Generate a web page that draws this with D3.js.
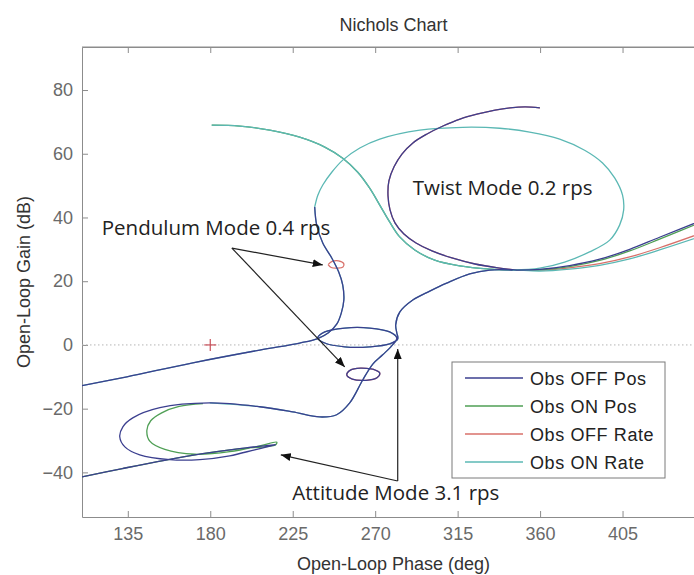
<!DOCTYPE html>
<html>
<head>
<meta charset="utf-8">
<script src="https://cdn.jsdelivr.net/npm/d3@7"></script>
<style>
    body { margin: 0; background: #fff; }
    svg { display: block; font-family: "Liberation Sans", Arial, sans-serif; }
</style>
</head>
<body>
<div class="canvas"></div>
<script>
// ---- data (phase in deg, gain in dB) ----
const xTicks = [135, 180, 225, 270, 315, 360, 405];
const yTicks = [-40, -20, 0, 20, 40, 60, 80];

const seriesNames = ['Obs OFF Pos', 'Obs ON Pos', 'Obs OFF Rate', 'Obs ON Rate'];
const seriesColors = ['#3b3f8f', '#4f9f55', '#d8706a', '#5bb8b4'];

// rising branch from the left edge, through 0 dB and the pendulum mode
const riseLowPhase = [110, 134.5, 170.5, 207, 228.8, 238.7, 244.5, 249, 251.5, 252.9, 252.3, 250.1, 246.3, 241.4, 238.1, 237];
const riseLowGain = [-12.8, -10, -5.6, -1.6, 0.6, 2.0, 3.8, 6.5, 10, 14.1, 18.8, 22.9, 27.3, 32, 37.6, 43.3];

// twist mode loop, observer ON
const onLoopPhase = [237, 238.7, 241.4, 246.3, 252.3, 261.6, 272.5, 294.3, 317.8, 338, 354.3, 370.7, 384.3, 394.1, 400.7, 405, 405.6, 403.4, 398, 387, 373.4, 359.8, 345];
const onLoopGain = [43.3, 47, 50.2, 54.2, 58, 61.8, 64.6, 67.4, 68.3, 68, 66.8, 64.6, 61.1, 57.1, 52.4, 47, 42.3, 37.6, 32.9, 29.2, 26, 24.1, 23.5];

// low frequency start, observer ON
const onTopPhase = [180.8, 196.1, 212.5, 228.8, 242.5, 252.3, 260.5, 267, 272.5, 277.9, 283.4, 291.6, 302.5, 316.1, 332.5, 345];
const onTopGain = [69, 68.7, 67.4, 65.2, 62.1, 58.6, 54.2, 49.2, 43.9, 38.6, 33.9, 29.8, 26.6, 24.8, 23.8, 23.5];

// twist mode loop, observer OFF
const offLoopPhase = [359.9, 351.8, 343.6, 335.4, 326.1, 316.3, 307, 298.3, 290.6, 284.6, 280.3, 277.5, 277, 278.1, 280.8, 285.7, 292.3, 301, 311.9, 324.5, 337, 347.4];
const offLoopGain = [74.4, 74.7, 74.4, 73.7, 72.5, 70.9, 68.7, 66.2, 63.4, 59.9, 55.9, 51.5, 46.8, 42.4, 38.3, 34.8, 32, 29.5, 27.3, 25.4, 24.2, 23.5];

// branches leaving to the right edge
const rightPhase = [347.4, 359.8, 376.1, 392.5, 408.9, 425.2, 450];
const posOffRightGain = [23.5, 23.7, 24.9, 26.9, 30, 33.8, 39.5];
const posOnRightGain = [23.5, 23.6, 24.6, 26.5, 29.5, 33.2, 39];
const rateOffRightGain = [23.5, 23.4, 24.2, 25.5, 27.6, 30.5, 35.5];
const rateOnRightGain = [23.5, 23.2, 23.8, 25, 27, 29.8, 34.5];

// descent through the attitude mode loop down to -20 dB
const descendPhase = [345, 332.5, 321.6, 309, 299.8, 290.5, 283.4, 281.2, 281.8, 282.3, 277.9, 267, 253.4, 242.5, 238.7, 242.5, 253.4, 267, 277.9, 281.8, 279, 274.1, 268.7, 263.2, 256.1, 249, 239.7, 225, 207, 179.7];
const descendGain = [23.5, 23.5, 22.3, 19.4, 16.9, 14.1, 10.3, 6.3, 3.8, 1.9, 0.3, -0.6, -0.6, 0.6, 2.2, 4.1, 5.3, 5.3, 4.1, 2.2, -0.3, -3.1, -6, -11, -18.2, -21.9, -22.6, -21, -19.4, -18.2];

// lower left loops
const offLowLoopPhase = [152.5, 137.7, 132.3, 130.6, 133.4, 141.5, 157.9, 174.3, 190.6, 204.3, 215.7];
const offLowLoopGain = [-19.7, -22.9, -25.7, -28.8, -32, -34.5, -36, -36, -34.8, -32.9, -31.3];
const onLowLoopPhase = [176, 163, 153.5, 147.5, 145.4, 147, 155.2, 171.6, 190.6, 207, 216.3];
const onLowLoopGain = [-18.4, -19.3, -21.3, -23.8, -26.8, -30.2, -32.8, -34.3, -33.5, -31.7, -30.5];
const returnPhase = [215.7, 195, 175, 155, 132, 110];
const returnGain = [-31.3, -32.6, -34.2, -36.2, -38.8, -41.4];

// small pendulum loops
const pendUpPhase = [244.3, 246.5, 250, 252.8, 252.5, 249.5, 246, 244.3];
const pendUpGain = [25.2, 26.2, 26.4, 25.6, 24.5, 24.1, 24.3, 25.2];
const pendLowPhase = [268.7, 262, 256.5, 254.5, 257.5, 265, 271, 272.5, 268.7];
const pendLowGain = [-7.6, -7.3, -7.9, -9.4, -10.7, -11.1, -10.3, -8.8, -7.6];

const seg = (p, g) => d3.zip(p, g);
const segments = {
    riseLow: seg(riseLowPhase, riseLowGain),
    onLoop: seg(onLoopPhase, onLoopGain),
    onTop: seg(onTopPhase, onTopGain),
    offLoop: seg(offLoopPhase, offLoopGain),
    posOffRight: seg(rightPhase, posOffRightGain),
    posOnRight: seg(rightPhase, posOnRightGain),
    rateOffRight: seg(rightPhase, rateOffRightGain),
    rateOnRight: seg(rightPhase, rateOnRightGain),
    descend: seg(descendPhase, descendGain),
    offLowLoop: seg(offLowLoopPhase, offLowLoopGain),
    onLowLoop: seg(onLowLoopPhase, onLowLoopGain),
    returnLine: seg(returnPhase, returnGain),
    pendUp: seg(pendUpPhase, pendUpGain),
    pendLow: seg(pendLowPhase, pendLowGain)
};

// which pieces make up each response
const seriesPieces = [
    [['riseLow'], ['offLoop', 'posOffRight'], ['descend', 'offLowLoop', 'returnLine'], ['pendLow']],
    [['onTop', 'posOnRight'], ['onLowLoop', 'returnLine']],
    [['offLoop', 'rateOffRight'], ['pendUp'], ['pendLow']],
    [['onTop', 'rateOnRight'], ['riseLow', 'onLoop', 'descend']]
];
const drawOrder = [2, 1, 3, 0];

// ---- layout ----
const dims = { width: 694, height: 575 };
const plot = { left: 82, right: 705, top: 47, bottom: 517 };

const svg = d3.select('.canvas')
    .append('svg')
    .attr('width', dims.width)
    .attr('height', dims.height);

const x = d3.scaleLinear().domain([110, 450]).range([plot.left, plot.right]);
const y = d3.scaleLinear().domain([-54, 93.5]).range([plot.bottom, plot.top]);

svg.append('defs').append('clipPath').attr('id', 'clip')
    .append('rect')
    .attr('x', plot.left).attr('y', plot.top)
    .attr('width', plot.right - plot.left).attr('height', plot.bottom - plot.top);

svg.select('defs').append('marker')
    .attr('id', 'arrow')
    .attr('viewBox', '0 0 10 8')
    .attr('refX', 10).attr('refY', 4)
    .attr('markerUnits', 'userSpaceOnUse')
    .attr('markerWidth', 10).attr('markerHeight', 8)
    .attr('orient', 'auto')
    .append('path').attr('d', 'M0,0 L10,4 L0,8 Z').attr('fill', '#111');

// axes (ticks inside, like MATLAB)
const axisColor = '#8c8c8c';
const gx = svg.append('g')
    .attr('transform', `translate(0,${plot.bottom})`)
    .call(d3.axisBottom(x).tickValues(xTicks).tickSize(-6).tickSizeOuter(0).tickPadding(10));
const gxTop = svg.append('g')
    .attr('transform', `translate(0,${plot.top})`)
    .call(d3.axisTop(x).tickValues(xTicks).tickSize(-6).tickSizeOuter(0).tickFormat(''));
const gy = svg.append('g')
    .attr('transform', `translate(${plot.left},0)`)
    .call(d3.axisLeft(y).tickValues(yTicks).tickSize(-6).tickSizeOuter(0).tickPadding(9));

[gx, gxTop, gy].forEach(g => {
    g.selectAll('.domain').attr('stroke', axisColor);
    g.selectAll('.tick line').attr('stroke', axisColor);
    g.selectAll('.tick text')
        .attr('fill', '#6a6a6a')
        .style('font-size', '18px')
        .style('font-family', '"Liberation Sans", Arial, sans-serif');
});

// 0 dB line and critical point
const graph = svg.append('g').attr('clip-path', 'url(#clip)');

graph.append('line')
    .attr('x1', x(110)).attr('x2', x(450))
    .attr('y1', y(0)).attr('y2', y(0))
    .attr('stroke', '#b4b4b4')
    .attr('stroke-width', 1)
    .attr('stroke-dasharray', '1.5,2.5');

const crit = graph.append('g')
    .attr('transform', `translate(${x(180)},${y(0)})`)
    .attr('stroke', '#c8505a').attr('stroke-width', 1.2);
crit.append('line').attr('x1', -6).attr('x2', 6);
crit.append('line').attr('y1', -6).attr('y2', 6);

// response curves
const line = d3.line()
    .x(d => x(d[0]))
    .y(d => y(d[1]))
    .curve(d3.curveCatmullRom.alpha(0.5));

drawOrder.forEach(i => {
    seriesPieces[i].forEach(piece => {
        const pts = [].concat(...piece.map(name => segments[name]));
        graph.append('path')
            .datum(pts)
            .attr('fill', 'none')
            .attr('stroke', seriesColors[i])
            .attr('stroke-width', 1.3)
            .attr('d', line);
    });
});

// annotations
const annFont = '"Open Sans", "Noto Sans", sans-serif';
const notes = [
    { text: 'Pendulum Mode 0.4 rps', p: 120.8, g: 34.6 },
    { text: 'Twist Mode 0.2 rps', p: 290.5, g: 47 },
    { text: 'Attitude Mode 3.1 rps', p: 224.8, g: -48.7 }
];
svg.selectAll('.note')
    .data(notes)
    .enter().append('text')
    .attr('class', 'note')
    .attr('x', d => x(d.p))
    .attr('y', d => y(d.g))
    .attr('fill', '#222')
    .style('font-family', annFont)
    .style('font-size', '20.5px')
    .text(d => d.text);

const arrows = [
    { from: [191.8, 30.4], to: [241.4, 25.1] },
    { from: [191.8, 30.4], to: [253.4, -6.9] },
    { from: [282.3, -42.7], to: [282.3, -1.3] },
    { from: [282.3, -42.7], to: [218.5, -34.5] }
];
svg.selectAll('.arrow')
    .data(arrows)
    .enter().append('line')
    .attr('class', 'arrow')
    .attr('x1', d => x(d.from[0])).attr('y1', d => y(d.from[1]))
    .attr('x2', d => x(d.to[0])).attr('y2', d => y(d.to[1]))
    .attr('stroke', '#222')
    .attr('stroke-width', 1.2)
    .attr('marker-end', 'url(#arrow)');

// box edge on top
svg.append('line')
    .attr('x1', plot.left).attr('x2', plot.right)
    .attr('y1', plot.top).attr('y2', plot.top)
    .attr('stroke', axisColor);

// legend
const legend = svg.append('g').attr('transform', 'translate(452,362)');
legend.append('rect')
    .attr('width', 213).attr('height', 116)
    .attr('fill', '#fff')
    .attr('stroke', '#7a7a7a');
const items = legend.selectAll('.item')
    .data(seriesNames)
    .enter().append('g')
    .attr('transform', (d, i) => `translate(0,${16 + i * 28})`);
items.append('line')
    .attr('x1', 13).attr('x2', 71)
    .attr('stroke', (d, i) => seriesColors[i])
    .attr('stroke-width', 1.3);
items.append('text')
    .attr('x', 78).attr('y', 6.5)
    .attr('fill', '#222')
    .style('font-size', '18px')
    .style('letter-spacing', '0.6px')
    .text(d => d);

// titles
svg.append('text')
    .attr('x', (plot.left + plot.right) / 2).attr('y', 31)
    .attr('text-anchor', 'middle')
    .attr('fill', '#333')
    .style('font-size', '18px')
    .text('Nichols Chart');

svg.append('text')
    .attr('x', (plot.left + plot.right) / 2).attr('y', 570)
    .attr('text-anchor', 'middle')
    .attr('fill', '#333')
    .style('font-size', '18px')
    .text('Open-Loop Phase (deg)');

svg.append('text')
    .attr('transform', `translate(30,${(plot.top + plot.bottom) / 2}) rotate(-90)`)
    .attr('text-anchor', 'middle')
    .attr('fill', '#333')
    .style('font-size', '18px')
    .text('Open-Loop Gain (dB)');
</script>
</body>
</html>
